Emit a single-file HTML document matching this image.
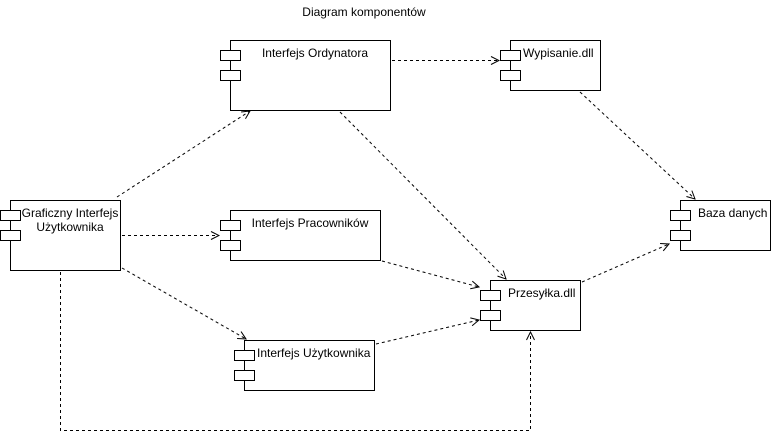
<!DOCTYPE html>
<html><head><meta charset="utf-8"><style>
html,body{margin:0;padding:0;background:#fff;}
svg{display:block;}
text{font-family:"Liberation Sans",sans-serif;font-size:12px;fill:#000;}
</style></head><body>
<svg width="771" height="439" viewBox="0 0 771 439" xmlns="http://www.w3.org/2000/svg">
<defs>
<marker id="a" markerWidth="10" markerHeight="10" refX="9" refY="5" orient="auto" markerUnits="userSpaceOnUse">
<path d="M1,1 L9,5 L1,9" fill="none" stroke="#000" stroke-width="1"/>
</marker>
</defs>
<text x="364" y="16" text-anchor="middle">Diagram komponentów</text>
<g fill="#fff" stroke="#000" stroke-width="1" shape-rendering="crispEdges">
<rect x="230.5" y="40.5" width="160" height="70"/>
<rect x="220.5" y="50.5" width="20" height="10"/><rect x="220.5" y="70.5" width="20" height="10"/>
<rect x="510.5" y="40.5" width="90" height="50"/>
<rect x="500.5" y="50.5" width="20" height="10"/><rect x="500.5" y="70.5" width="20" height="10"/>
<rect x="10.5" y="200.5" width="110" height="70"/>
<rect x="0.5" y="210.5" width="20" height="10"/><rect x="0.5" y="230.5" width="20" height="10"/>
<rect x="230.5" y="210.5" width="150" height="50"/>
<rect x="220.5" y="220.5" width="20" height="10"/><rect x="220.5" y="240.5" width="20" height="10"/>
<rect x="680.5" y="200.5" width="90" height="50"/>
<rect x="670.5" y="210.5" width="20" height="10"/><rect x="670.5" y="230.5" width="20" height="10"/>
<rect x="490.5" y="280.5" width="90" height="50"/>
<rect x="480.5" y="290.5" width="20" height="10"/><rect x="480.5" y="310.5" width="20" height="10"/>
<rect x="244.5" y="340.5" width="130" height="50"/>
<rect x="234.5" y="350.5" width="20" height="10"/><rect x="234.5" y="370.5" width="20" height="10"/>
</g>
<text x="315" y="57" text-anchor="middle">Interfejs Ordynatora</text>
<text x="523" y="57">Wypisanie.dll</text>
<text x="70" y="217" text-anchor="middle">Graficzny Interfejs</text>
<text x="70" y="231" text-anchor="middle">Użytkownika</text>
<text x="310" y="227" text-anchor="middle">Interfejs Pracowników</text>
<text x="698" y="217">Baza danych</text>
<text x="508" y="297">Przesyłka.dll</text>
<text x="257" y="357">Interfejs Użytkownika</text>
<g fill="none" stroke="#000" stroke-width="1" stroke-dasharray="3,3" marker-end="url(#a)">
<line x1="117" y1="197" x2="250" y2="111"/>
<line x1="122" y1="235.5" x2="219" y2="235.5"/>
<line x1="122" y1="268" x2="246" y2="339"/>
<polyline points="60.5,272 60.5,430.5 530.5,430.5 530.5,332"/>
<line x1="392" y1="60.5" x2="499" y2="60.5"/>
<line x1="340" y1="112" x2="506" y2="279"/>
<line x1="382" y1="261" x2="479" y2="287"/>
<line x1="376" y1="344" x2="479" y2="320"/>
<line x1="580" y1="92" x2="695" y2="199"/>
<line x1="582" y1="282" x2="669" y2="244"/>
</g>
</svg>
</body></html>
